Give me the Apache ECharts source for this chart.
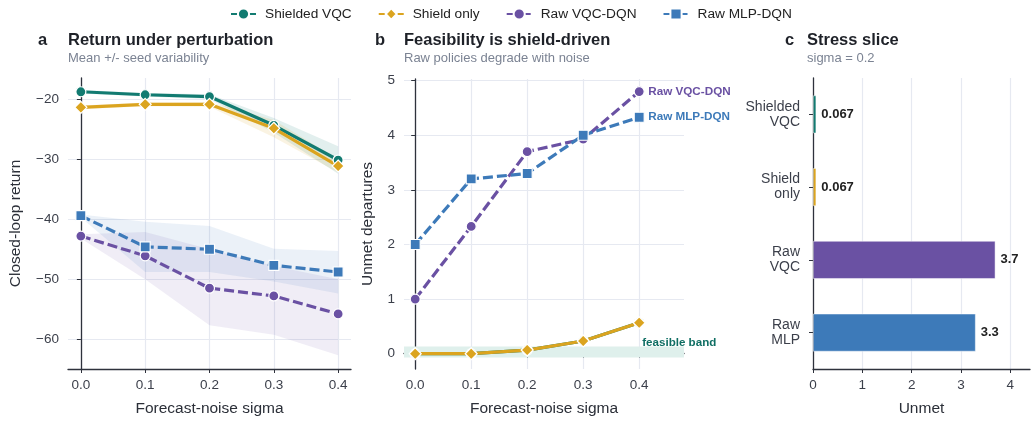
<!DOCTYPE html>
<html><head><meta charset="utf-8">
<script src="https://cdn.jsdelivr.net/npm/echarts@6/dist/echarts.min.js"></script>
<style>html,body{margin:0;padding:0;background:#fff}#c{width:1031px;height:422px}</style>
</head><body><div id="c"></div>
<script>
// ---------- data ----------
const sigma = [0, 0.1, 0.2, 0.3, 0.4];
const seriesNames = ['Shielded VQC', 'Shield only', 'Raw VQC-DQN', 'Raw MLP-DQN'];

// panel a: closed-loop return (mean) and seed-variability bands
const retShieldedVQC = [-18.7, -19.2, -19.5, -24.3, -30.1];
const retShieldOnly  = [-21.3, -20.8, -20.8, -24.8, -31.1];
const retRawVQC      = [-42.8, -46.1, -51.5, -52.8, -55.8];
const retRawMLP      = [-39.4, -44.6, -45.0, -47.7, -48.8];
const bandShieldedVQCLow  = [-19.0, -19.5, -19.9, -25.5, -32.4];
const bandShieldedVQCHigh = [-18.4, -18.9, -19.1, -23.1, -27.8];
const bandShieldOnlyLow   = [-21.6, -21.1, -21.2, -26.3, -32.2];
const bandShieldOnlyHigh  = [-21.0, -20.5, -20.4, -23.4, -30.0];
const bandRawVQCLow  = [-43.2, -50.0, -57.7, -59.3, -62.7];
const bandRawVQCHigh = [-42.5, -42.1, -45.0, -47.8, -50.0];
const bandRawMLPLow  = [-39.7, -48.8, -48.8, -50.4, -52.4];
const bandRawMLPHigh = [-39.2, -40.4, -41.1, -44.9, -45.3];

// panel b: unmet departures
const unmetShieldedVQC = [0, 0, 0.067, 0.233, 0.567];
const unmetShieldOnly  = [0, 0, 0.067, 0.233, 0.567];
const unmetRawVQC      = [1.0, 2.33, 3.7, 3.93, 4.8];
const unmetRawMLP      = [2.0, 3.2, 3.3, 4.0, 4.33];
const feasibleBand     = [-0.07, 0.13];

// panel c: stress slice at sigma = 0.2
const stressCategories = ['Shielded\nVQC', 'Shield\nonly', 'Raw\nVQC', 'Raw\nMLP'];
const stressUnmet      = [0.067, 0.067, 3.7, 3.3];

// ---------- style ----------
const COL = { teal: '#127b71', gold: '#dba41f', purple: '#6a51a3', blue: '#3d7ab9' };
const FONT = '"Liberation Sans", Arial, Helvetica, sans-serif';
const AXIS_COL = '#2e323c', LABEL_COL = '#3b3f4a', GRID_COL = '#e6e9f1';

const chart = echarts.init(document.getElementById('c'), null, { renderer: 'canvas' });

function xVal(gi, max, name) {
  return {
    type: 'value', gridIndex: gi, min: -0.02, max: max,
    name: name, nameLocation: 'middle', nameGap: 32,
    nameTextStyle: { fontFamily: FONT, fontSize: 15.5, color: '#2b2f38' },
    axisLine: { show: true, lineStyle: { color: AXIS_COL, width: 1.3 } },
    axisTick: { show: true, length: 4, lineStyle: { color: AXIS_COL } },
    axisLabel: { fontFamily: FONT, fontSize: 13.5, color: LABEL_COL, margin: 9,
      showMinLabel: false, showMaxLabel: false, formatter: v => v.toFixed(1) },
    splitLine: { show: true, showMinLine: false, showMaxLine: false, lineStyle: { color: GRID_COL, width: 1.2 } }
  };
}
function yVal(gi, min, max, name, fmt, gap) {
  return {
    type: 'value', gridIndex: gi, min: min, max: max,
    name: name, nameLocation: 'middle', nameGap: gap, nameRotate: 90,
    nameTextStyle: { fontFamily: FONT, fontSize: 15.5, color: '#2b2f38' },
    axisLine: { show: true, lineStyle: { color: AXIS_COL, width: 1.3 } },
    axisTick: { show: true, length: 4, lineStyle: { color: AXIS_COL } },
    axisLabel: { fontFamily: FONT, fontSize: 13.5, color: LABEL_COL, margin: 9,
      showMinLabel: false, showMaxLabel: false, formatter: fmt },
    splitLine: { show: true, showMinLine: false, showMaxLine: false, lineStyle: { color: GRID_COL, width: 1.2 } }
  };
}

function lineS(name, gi, vals, color, symbol, size, dashed, extra) {
  return Object.assign({
    type: 'line', name: name, xAxisIndex: gi, yAxisIndex: gi,
    data: sigma.map((x, i) => [x, vals[i]]),
    symbol: symbol, symbolSize: size, showSymbol: true,
    lineStyle: { color: color, width: 3.2, type: dashed ? [10, 4] : 'solid' },
    itemStyle: { color: color, borderColor: '#ffffff', borderWidth: 1.2 },
    emphasis: { disabled: true }, animation: false, z: 3
  }, extra || {});
}

function band(gi, lo, hi, fill) {
  return {
    type: 'custom', name: 'band', xAxisIndex: gi, yAxisIndex: gi, silent: true, z: 1,
    animation: false,
    data: sigma.map((x, i) => [x, lo[i], hi[i]]),
    encode: { x: 0, y: [1, 2] },
    renderItem: (p, api) => {
      if (p.dataIndex !== 0) return null;
      const pts = [];
      for (let i = 0; i < sigma.length; i++) pts.push(api.coord([sigma[i], hi[i]]));
      for (let i = sigma.length - 1; i >= 0; i--) pts.push(api.coord([sigma[i], lo[i]]));
      return { type: 'polygon', shape: { points: pts }, style: { fill: fill } };
    }
  };
}

function titleBlock(letter, lx, tx, text, sub) {
  return [
    { text: letter, left: lx, top: 32, padding: 0, textStyle: { fontFamily: FONT, fontSize: 16.5, fontWeight: 'bold', color: '#1e2128' } },
    { text: text, subtext: sub, left: tx, top: 32, itemGap: 3, padding: 0,
      textStyle: { fontFamily: FONT, fontSize: 16.5, fontWeight: 'bold', color: '#1e2128' },
      subtextStyle: { fontFamily: FONT, fontSize: 13, color: '#7b8393' } }
  ];
}

const minusFmt = v => (v < 0 ? '\u2212' : '') + Math.abs(v);
const endLbl = (txt, color) => ({
  show: true, formatter: txt, distance: 9, color: color,
  fontFamily: FONT, fontSize: 11.7, fontWeight: 'bold'
});

const option = {
  backgroundColor: '#ffffff',
  animation: false,
  title: [].concat(
    titleBlock('a', 38, 68, 'Return under perturbation', 'Mean +/- seed variability'),
    titleBlock('b', 375, 404, 'Feasibility is shield-driven', 'Raw policies degrade with noise'),
    titleBlock('c', 785, 807, 'Stress slice', 'sigma = 0.2')
  ),
  legend: {
    data: seriesNames, left: 225, top: 2, itemGap: 26, itemWidth: 25, itemHeight: 14,
    textStyle: { fontFamily: FONT, fontSize: 13.7, color: '#222', padding: [0, 0, 0, 4] }, selectedMode: false
  },
  grid: [
    { left: 68, top: 78, width: 283, height: 292 },
    { left: 404, top: 79, width: 280, height: 290 },
    { left: 813, top: 78, width: 217, height: 291 }
  ],
  xAxis: [
    xVal(0, 0.42, 'Forecast-noise sigma'),
    xVal(1, 0.48, 'Forecast-noise sigma'),
    {
      type: 'value', gridIndex: 2, min: 0, max: 4.4, interval: 1,
      name: 'Unmet', nameLocation: 'middle', nameGap: 32,
      nameTextStyle: { fontFamily: FONT, fontSize: 15.5, color: '#2b2f38' },
      axisLine: { show: true, lineStyle: { color: AXIS_COL, width: 1.3 } },
      axisTick: { show: true, length: 4, lineStyle: { color: AXIS_COL } },
      axisLabel: { fontFamily: FONT, fontSize: 13.5, color: LABEL_COL, margin: 9, showMaxLabel: false },
      splitLine: { show: true, showMinLine: false, showMaxLine: false, lineStyle: { color: GRID_COL, width: 1.2 } }
    }
  ],
  yAxis: [
    yVal(0, -65, -16.4, 'Closed-loop return', minusFmt, 44),
    yVal(1, -0.28, 5.03, 'Unmet departures', v => String(v), 28),
    {
      type: 'category', gridIndex: 2, data: stressCategories, inverse: true,
      axisLine: { show: true, lineStyle: { color: AXIS_COL, width: 1.3 } },
      axisTick: { show: true, length: 4, alignWithLabel: true, lineStyle: { color: AXIS_COL } },
      axisLabel: { fontFamily: FONT, fontSize: 14, lineHeight: 15, color: LABEL_COL, margin: 13, align: 'right' },
      splitLine: { show: false }
    }
  ],
  series: [
    // panel a
    band(0, bandShieldedVQCLow, bandShieldedVQCHigh, 'rgba(18,123,113,0.12)'),
    band(0, bandShieldOnlyLow, bandShieldOnlyHigh, 'rgba(219,164,31,0.13)'),
    band(0, bandRawVQCLow, bandRawVQCHigh, 'rgba(106,81,163,0.10)'),
    band(0, bandRawMLPLow, bandRawMLPHigh, 'rgba(61,122,185,0.10)'),
    lineS(seriesNames[0], 0, retShieldedVQC, COL.teal, 'circle', 10, false),
    lineS(seriesNames[1], 0, retShieldOnly, COL.gold, 'diamond', 12, false),
    lineS(seriesNames[2], 0, retRawVQC, COL.purple, 'circle', 10, true),
    lineS(seriesNames[3], 0, retRawMLP, COL.blue, 'rect', 10, true),
    // panel b
    lineS(seriesNames[0], 1, unmetShieldedVQC, COL.teal, 'circle', 10, false, {
      markArea: {
        silent: true, itemStyle: { color: '#dff0ec' }, label: { show: false },
        data: [[{ yAxis: feasibleBand[0] }, { yAxis: feasibleBand[1] }]]
      },
      markPoint: {
        silent: true, symbol: 'circle', symbolSize: 0,
        label: { show: true, position: 'right', distance: 3, formatter: 'feasible band',
          color: '#0f6e63', fontFamily: FONT, fontSize: 11.6, fontWeight: 'bold' },
        data: [{ coord: [sigma[sigma.length - 1], 0.2] }]
      }
    }),
    lineS(seriesNames[1], 1, unmetShieldOnly, COL.gold, 'diamond', 12, false),
    lineS(seriesNames[2], 1, unmetRawVQC, COL.purple, 'circle', 10, true, { endLabel: endLbl('Raw VQC-DQN', COL.purple) }),
    lineS(seriesNames[3], 1, unmetRawMLP, COL.blue, 'rect', 10, true, { endLabel: endLbl('Raw MLP-DQN', COL.blue) }),
    // panel c
    {
      type: 'bar', name: 'stress', xAxisIndex: 2, yAxisIndex: 2, barWidth: 38,
      data: stressUnmet.map((v, i) => ({
        value: v,
        itemStyle: { color: [COL.teal, COL.gold, COL.purple, COL.blue][i], borderColor: 'rgba(255,255,255,0.6)', borderWidth: 0.8 }
      })),
      label: { show: true, position: 'right', distance: 5, fontFamily: FONT, fontSize: 13, fontWeight: 'bold', color: '#222',
        formatter: p => p.value >= 1 ? p.value.toFixed(1) : p.value.toFixed(3) },
      emphasis: { disabled: true }, animation: false
    }
  ]
};
chart.setOption(option);
</script>
</body></html>
